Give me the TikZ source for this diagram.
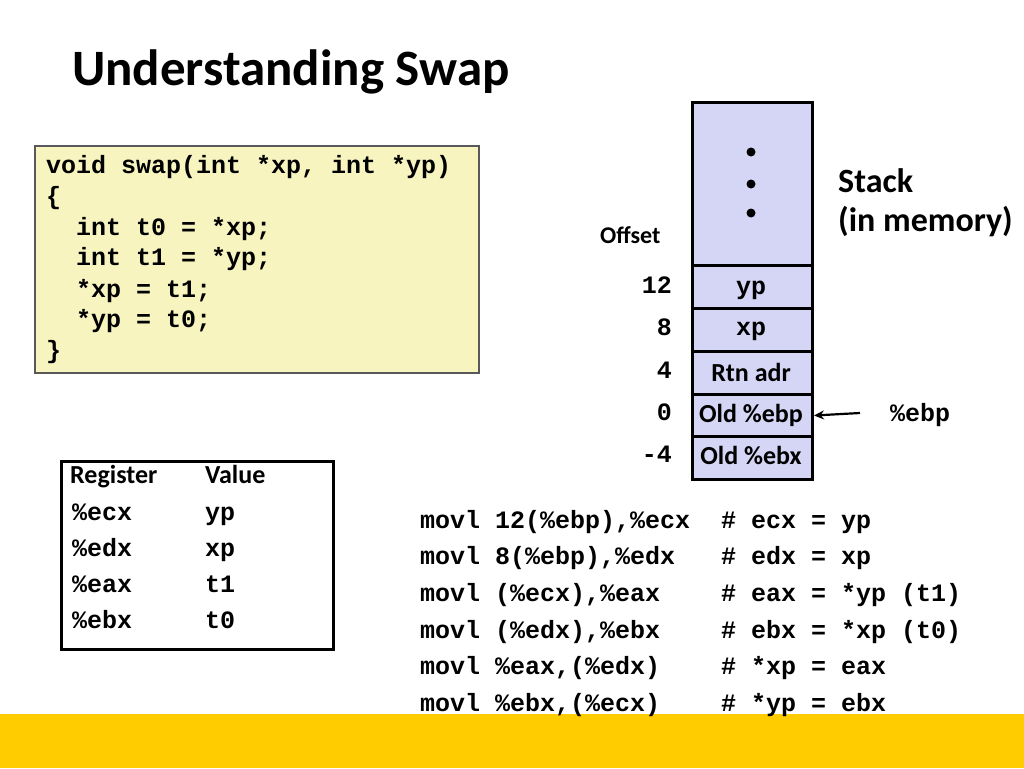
\documentclass[tikz,border=0pt]{standalone}
\usepackage{fontspec}
\setmainfont{Carlito}
\newfontfamily\mono{Liberation Mono}
\usetikzlibrary{arrows.meta}
\definecolor{codefill}{HTML}{F7F4C0}
\definecolor{stackfill}{HTML}{D5D5F5}
\definecolor{barcolor}{HTML}{FFCC00}
\tikzset{
  codetext/.style={anchor=base west, inner sep=0pt, font=\mono\bfseries\fontsize{25}{30}\selectfont},
  codebox/.style={draw=black!65, line width=1.5pt, fill=codefill, anchor=north west, inner sep=0pt},
  cell/.style={draw=black, line width=3pt, fill=stackfill, minimum width=120pt, inner sep=0pt, anchor=north west},
  celltext/.style={anchor=base, inner sep=0pt, font=\bfseries\fontsize{26}{30}\selectfont},
  cellmono/.style={anchor=base, inner sep=0pt, font=\mono\bfseries\fontsize{25}{30}\selectfont},
  offnum/.style={anchor=base east, inner sep=0pt, font=\mono\bfseries\fontsize{25}{30}\selectfont},
  sans/.style={anchor=base west, inner sep=0pt, font=\bfseries\fontsize{26}{30}\selectfont},
  tablebox/.style={draw=black, line width=2.5pt, anchor=north west, inner sep=0pt},
}
\begin{document}
\begin{tikzpicture}[x=1pt,y=-1pt]
\useasboundingbox (0,0) rectangle (1024,768);
% bottom bar
\fill[barcolor] (0,714) rectangle (1024,768);
% title
\node[anchor=base west, inner sep=0pt, font=\bfseries\fontsize{51}{60}\selectfont] (title) at (72,85) {Understanding Swap};
% C code box
\node[codebox, minimum width=444pt, minimum height=227pt] (code) at (34,145) {};
\node[codetext] (c1) at (46,173) {void swap(int *xp, int *yp)};
\node[codetext] (c2) at (46,204) {\{};
\node[codetext] (c3) at (76,235) {int t0 = *xp;};
\node[codetext] (c4) at (76,265) {int t1 = *yp;};
\node[codetext] (c5) at (76,297) {*xp = t1;};
\node[codetext] (c6) at (76,327) {*yp = t0;};
\node[codetext] (c7) at (46,358) {\}};
% stack
\node[cell, minimum height=163pt] (top) at (691,101) {};
\fill (751,152) circle (4.5pt);
\fill (751,184) circle (4.5pt);
\fill (751,213) circle (4.5pt);
\node[cell, minimum height=43pt] (s12) at (691,264) {};
\node[cell, minimum height=43pt] (s8) at (691,307) {};
\node[cell, minimum height=43pt] (s4) at (691,350) {};
\node[cell, minimum height=42pt] (s0) at (691,393) {};
\node[cell, minimum height=43pt] (sm4) at (691,435) {};
\node[cellmono] (t12) at (751,294) {yp};
\node[cellmono] (t8) at (751,335) {xp};
\node[celltext] (t4) at (751,381) {Rtn adr};
\node[celltext] (t0) at (751,422) {Old \%ebp};
\node[celltext] (tm4) at (751,464) {Old \%ebx};
% offsets
\node[anchor=base west, inner sep=0pt, font=\bfseries\fontsize{24}{28}\selectfont] (offset) at (600,243) {Offset};
\node[offnum] (o12) at (672,293) {12};
\node[offnum] (o8) at (672,335) {8};
\node[offnum] (o4) at (672,378) {4};
\node[offnum] (o0) at (672,420) {0};
\node[offnum] (om4) at (672,462) {-4};
% stack label
\node[anchor=base west, inner sep=0pt, font=\bfseries\fontsize{34}{40}\selectfont] (stk1) at (838,192) {Stack};
\node[anchor=base west, inner sep=0pt, font=\bfseries\fontsize{34}{40}\selectfont] (stk2) at (838,231) {(in memory)};
% ebp pointer
\node[anchor=base west, inner sep=0pt, font=\mono\bfseries\fontsize{25}{30}\selectfont] (ebp) at (890,421) {\%ebp};
\coordinate (arrstart) at (860,413);
\draw[line width=2.2pt, -{Stealth[length=10pt,width=9pt]}] (arrstart) -- (s0.east);
% register table
\node[tablebox, minimum width=272pt, minimum height=188pt] (tbl) at (60,460) {};
\node[sans] (hreg) at (70,483) {Register};
\node[sans] (hval) at (205,483) {Value};
\node[codetext] (r1) at (72,520) {\%ecx};
\node[codetext] (v1) at (205,520) {yp};
\node[codetext] (r2) at (72,556) {\%edx};
\node[codetext] (v2) at (205,556) {xp};
\node[codetext] (r3) at (72,592) {\%eax};
\node[codetext] (v3) at (205,592) {t1};
\node[codetext] (r4) at (72,628) {\%ebx};
\node[codetext] (v4) at (205,628) {t0};
% assembly
\node[codetext] (a1) at (420,528) {movl 12(\%ebp),\%ecx};
\node[codetext] (k1) at (721,528) {\# ecx = yp};
\node[codetext] (a2) at (420,564) {movl 8(\%ebp),\%edx};
\node[codetext] (k2) at (721,564) {\# edx = xp};
\node[codetext] (a3) at (420,601) {movl (\%ecx),\%eax};
\node[codetext] (k3) at (721,601) {\# eax = *yp (t1)};
\node[codetext] (a4) at (420,638) {movl (\%edx),\%ebx};
\node[codetext] (k4) at (721,638) {\# ebx = *xp (t0)};
\node[codetext] (a5) at (420,674) {movl \%eax,(\%edx)};
\node[codetext] (k5) at (721,674) {\# *xp = eax};
\node[codetext] (a6) at (420,711) {movl \%ebx,(\%ecx)};
\node[codetext] (k6) at (721,711) {\# *yp = ebx};
\end{tikzpicture}
\end{document}
